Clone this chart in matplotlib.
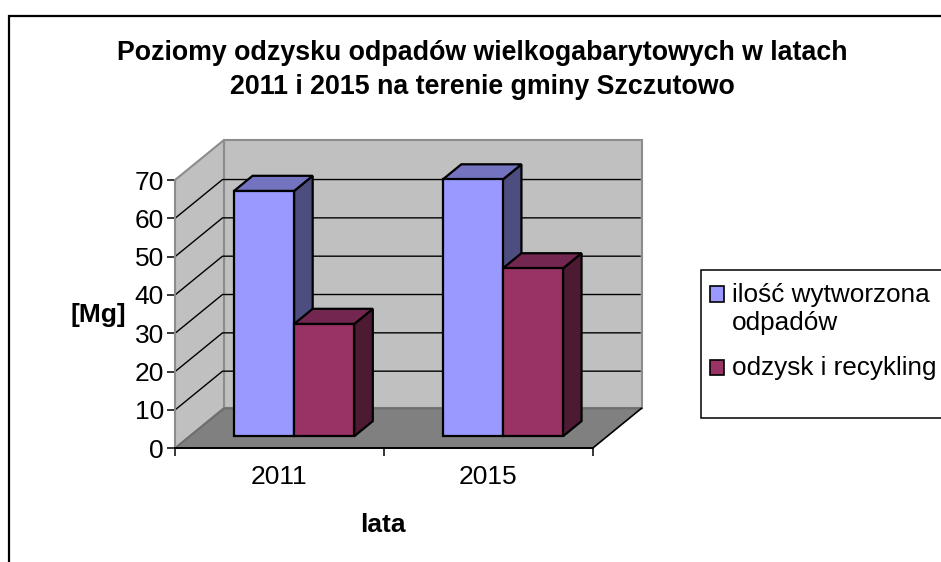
import matplotlib
matplotlib.use("Agg")
import matplotlib.pyplot as plt
from matplotlib.lines import Line2D
from matplotlib.patches import Patch, Polygon, Rectangle
from matplotlib.transforms import IdentityTransform

plt.rcParams['font.family'] = ['Liberation Sans', 'DejaVu Sans']

# dane
years = ['2011', '2015']
wytworzona = [64.0, 67.0]
odzysk = [29.3, 43.8]
y_ticks = [0, 10, 20, 30, 40, 50, 60, 70]
series_names = ['ilość wytworzona\nodpadów', 'odzysk i recykling']
title = 'Poziomy odzysku odpadów wielkogabarytowych w latach\n2011 i 2015 na terenie gminy Szczutowo'

# kolory: przód, bok, góra
blue = ('#9999FF', '#4D4D80', '#7373BF')
plum = ('#993366', '#4D1A33', '#732650')

W, H = 941, 562
DEPTH_X, DEPTH_Y = 49, 40   # przesunięcie tylnej ściany w pikselach
BAR_FRONT, BAR_BACK = 0.30, 0.68   # głębokość słupka
BAR_W = 0.288
FONT = 19

fig = plt.figure(figsize=(W / 100, H / 100), dpi=100)
ax = fig.add_axes([175 / W, (H - 448.3) / H, 417.5 / W, 268.3 / H])
ax.set_xlim(0, len(years))
ax.set_ylim(0, 70)
ax.patch.set_visible(False)


def project(x, y, depth=0.0):
    px, py = ax.transData.transform((x, y))
    return px + DEPTH_X * depth, py + DEPTH_Y * depth


def face(points, color, edge='black', lw=1.6, z=2):
    ax.add_patch(Polygon(points, closed=True, facecolor=color, edgecolor=edge, linewidth=lw,
                         joinstyle='miter', transform=IdentityTransform(), clip_on=False, zorder=z))


def draw_bar(left, value, colors, z):
    right = left + BAR_W
    # bok, góra, przód
    face([project(right, 0, BAR_FRONT), project(right, 0, BAR_BACK),
          project(right, value, BAR_BACK), project(right, value, BAR_FRONT)], colors[1], z=z)
    face([project(left, value, BAR_FRONT), project(right, value, BAR_FRONT),
          project(right, value, BAR_BACK), project(left, value, BAR_BACK)], colors[2], z=z)
    face([project(left, 0, BAR_FRONT), project(right, 0, BAR_FRONT),
          project(right, value, BAR_FRONT), project(left, value, BAR_FRONT)], colors[0], z=z)


x_max, y_max = len(years), y_ticks[-1]

# ściany i podłoga
face([project(0, 0, 1), project(x_max, 0, 1), project(x_max, y_max, 1), project(0, y_max, 1)],
     '#C0C0C0', edge='#8C8C8C', lw=1.5, z=1)
face([project(0, 0), project(0, 0, 1), project(0, y_max, 1), project(0, y_max)],
     '#C0C0C0', edge='#8C8C8C', lw=1.5, z=1)

# siatka
for v in y_ticks[1:-1]:
    pts = [project(0, v), project(0, v, 0.97), project(x_max, v, 0.97)]
    ax.add_line(Line2D([p[0] for p in pts], [p[1] for p in pts], color='black', linewidth=1.0,
                       transform=IdentityTransform(), clip_on=False, zorder=1.5))

face([project(0, 0), project(x_max, 0), project(x_max, 0, 1), project(0, 0, 1)],
     '#808080', edge='none', lw=0, z=1.6)
back_edge = [project(0, 0), project(0, 0, 1), project(x_max, 0, 1)]
ax.add_line(Line2D([p[0] for p in back_edge], [p[1] for p in back_edge], color='#6E6E6E', linewidth=1.5,
                   transform=IdentityTransform(), clip_on=False, zorder=1.7))
right_edge = [project(x_max, 0), project(x_max, 0, 1)]
ax.add_line(Line2D([p[0] for p in right_edge], [p[1] for p in right_edge], color='black', linewidth=1.2,
                   transform=IdentityTransform(), clip_on=False, zorder=1.7))

# słupki
for i in range(len(years)):
    draw_bar(i + 0.5 - BAR_W, wytworzona[i], blue, z=3 + i)
    draw_bar(i + 0.5, odzysk[i], plum, z=3.5 + i)

# osie
for name in ['top', 'right']:
    ax.spines[name].set_visible(False)
ax.spines['left'].set_color('#8C8C8C')
ax.spines['left'].set_linewidth(1.4)
ax.spines['bottom'].set_linewidth(1.4)
ax.set_yticks(y_ticks)
ax.set_xticks(range(len(years) + 1))
ax.set_xticklabels([])
ax.set_xticks([i + 0.5 for i in range(len(years))], labels=years, minor=True)
ax.tick_params(axis='x', which='major', length=6, width=1.1)
ax.tick_params(axis='x', which='minor', length=0, pad=12, labelsize=FONT)
ax.tick_params(axis='y', length=6, width=1.1, pad=2, labelsize=FONT)

fig.text(482.5 / W, 1 - 70 / H, title, ha='center', va='center', fontsize=19.3, fontweight='bold',
         linespacing=1.4)
fig.text(98 / W, 1 - 315 / H, '[Mg]', ha='center', va='center', fontsize=FONT, fontweight='bold')
fig.text(383 / W, 1 - 525 / H, 'lata', ha='center', va='center', fontsize=FONT, fontweight='bold')

# legenda
fig.add_artist(Rectangle((700.5 / W, 1 - 418 / H), 260 / W, 148 / H, transform=fig.transFigure,
                         facecolor='white', edgecolor='black', linewidth=1.1))
handles = [Patch(facecolor=blue[0], edgecolor='black', linewidth=1.2),
           Patch(facecolor=plum[0], edgecolor='black', linewidth=1.2)]
leg = fig.legend(handles, series_names, loc='upper left', bbox_to_anchor=(710 / W, 1 - 283 / H),
                 frameon=False, fontsize=18.8, handlelength=0.53, handleheight=0.53, handletextpad=0.3,
                 labelspacing=0.8, borderpad=0, borderaxespad=0)
# znacznik przy pierwszym wierszu opisu, nie na środku
first, second = leg.legend_handles
first.set_y(first.get_y() + 11)
second.set_y(second.get_y() - 1.5)

# ramka wykresu (prawa i dolna krawędź poza obrazem)
fig.add_artist(Rectangle((8.5 / W, -0.05), 1.1, 1 - 16 / H + 0.05, transform=fig.transFigure,
                         facecolor='none', edgecolor='black', linewidth=1.6))

fig.savefig('out.png', dpi=100)
